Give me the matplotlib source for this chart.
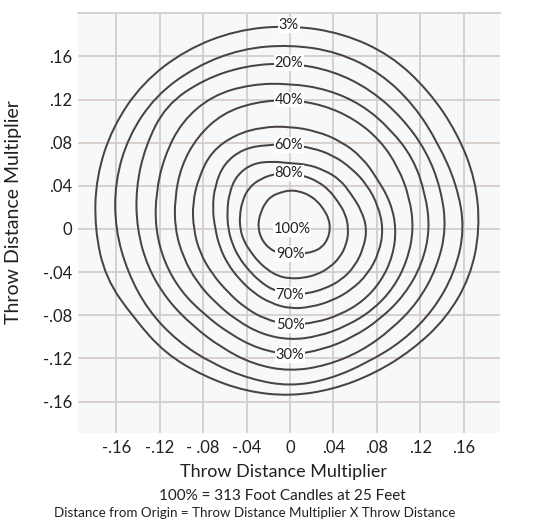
import numpy as np
import matplotlib
matplotlib.use("Agg")
import matplotlib.pyplot as plt
from matplotlib.patches import PathPatch
from matplotlib.path import Path

plt.rcParams["font.family"] = ["Lato", "DejaVu Sans"]

# distance from origin of each isocandela line, read every 15 degrees
angles = np.arange(0, 360, 15)
r_03 = [.175, .177, .178, .181, .186, .188, .189, .191, .192, .192, .189, .185,
        .180, .176, .166, .163, .158, .156, .155, .154, .155, .159, .166, .172]
r_10 = [.161, .159, .158, .162, .167, .170, .171, .173, .174, .175, .172, .167,
        .161, .155, .151, .147, .144, .144, .146, .144, .143, .147, .152, .157]
r_20 = [.144, .144, .145, .146, .149, .152, .154, .157, .160, .162, .154, .147,
        .141, .136, .131, .127, .127, .130, .132, .131, .131, .132, .136, .140]
r_30 = [.129, .129, .131, .131, .133, .134, .135, .139, .143, .141, .134, .128,
        .124, .120, .116, .112, .112, .115, .117, .116, .116, .118, .122, .126]
r_40 = [.114, .114, .115, .117, .118, .119, .120, .122, .124, .121, .116, .110,
        .106, .102, .099, .097, .098, .101, .103, .103, .104, .107, .110, .112]
r_50 = [.098, .096, .093, .094, .094, .094, .095, .098, .101, .102, .097, .093,
        .089, .086, .083, .082, .084, .087, .089, .090, .092, .095, .097, .098]
r_60 = [.086, .084, .082, .080, .079, .078, .078, .081, .086, .086, .080, .074,
        .069, .067, .066, .066, .068, .071, .074, .075, .077, .080, .083, .085]
r_70 = [.071, .068, .065, .065, .063, .062, .061, .065, .070, .070, .065, .060,
        .057, .055, .054, .054, .056, .059, .061, .062, .064, .067, .069, .070]
r_80 = [.054, .053, .051, .051, .051, .051, .052, .053, .054, .054, .051, .048,
        .046, .044, .042, .042, .043, .045, .046, .047, .049, .051, .053, .054]
r_90 = [.037, .037, .036, .036, .036, .036, .036, .035, .035, .033, .031, .030,
        .029, .028, .027, .026, .025, .024, .023, .024, .026, .030, .034, .036]

contours = {"3%": r_03, "10%": r_10, "20%": r_20, "30%": r_30, "40%": r_40,
            "50%": r_50, "60%": r_60, "70%": r_70, "80%": r_80, "90%": r_90}
top_labels = ["3%", "20%", "40%", "60%", "80%"]
bottom_labels = ["90%", "70%", "50%", "30%"]
peak_label = "100%"

ticks = [-.16, -.12, -.08, -.04, 0, .04, .08, .12, .16]
xtick_labels = ["-.16", "-.12", "- .08", "-.04", "0", ".04", ".08", ".12", ".16"]
ytick_labels = ["-.16", "-.12", "-.08", "-.04", "0", ".04", ".08", ".12", ".16"]

line_col = "#4a4343"
grid_col = "#d5cdc9"
text_col = "#231f20"

fig = plt.figure(figsize=(5.43, 5.25), dpi=100)
ax = fig.add_axes([78 / 543, 1 - 433 / 525, 422 / 543, 419 / 525])
ax.set_facecolor("#f6f8fa")

th = np.radians(angles)
for name, r in contours.items():
    r = np.array(r)
    pts = np.column_stack([r * np.cos(th), r * np.sin(th)])
    # closed quadratic curve with the read points as control points
    mids = (pts + np.roll(pts, -1, axis=0)) / 2
    verts = [mids[-1]]
    codes = [Path.MOVETO]
    for p, m in zip(pts, mids):
        verts += [p, m]
        codes += [Path.CURVE3, Path.CURVE3]
    ax.add_patch(PathPatch(Path(verts, codes), facecolor="none",
                           edgecolor=line_col, lw=1.45, zorder=3))

i_top = list(angles).index(90)
i_bot = list(angles).index(270)
lbl = dict(ha="center", va="center", fontsize=10.5, color=text_col, zorder=5,
           bbox=dict(facecolor="white", edgecolor="none", pad=0.5))
for name in top_labels:
    ax.text(-0.001, contours[name][i_top], name, **lbl)
for name in bottom_labels:
    ax.text(0, -contours[name][i_bot], name, **lbl)
ax.text(0.002, 0, peak_label, **lbl)

ax.set_xlim(-0.1954, 0.1935)
ax.set_ylim(-0.1892, 0.1994)
ax.set_xticks(ticks)
ax.set_xticklabels(xtick_labels)
ax.set_yticks(ticks)
ax.set_yticklabels(ytick_labels)
ax.grid(True, color=grid_col, lw=1.3, zorder=1)
ax.axhline(0.2, color=grid_col, lw=1.3, clip_on=False, zorder=1)
ax.set_axisbelow(True)
for s in ax.spines.values():
    s.set_visible(False)
ax.tick_params(length=0, labelsize=12, colors=text_col)
ax.tick_params(axis="y", pad=4.5)
ax.tick_params(axis="x", pad=5)

fig.text(284 / 543, 1 - 472 / 525, "Throw Distance Multiplier", ha="center",
         va="center", fontsize=13, color=text_col)
fig.text(14 / 543, 1 - 212 / 525, "Throw Distance Multiplier", ha="center",
         va="center", rotation=90, fontsize=14, color=text_col)
fig.text(282 / 543, 1 - 496 / 525, "100% = 313 Foot Candles at 25 Feet",
         ha="center", va="center", fontsize=11, color=text_col)
fig.text(255 / 543, 1 - 513 / 525,
         "Distance from Origin = Throw Distance Multiplier X Throw Distance",
         ha="center", va="center", fontsize=9.6, color=text_col)

fig.savefig("out.png", dpi=100)
